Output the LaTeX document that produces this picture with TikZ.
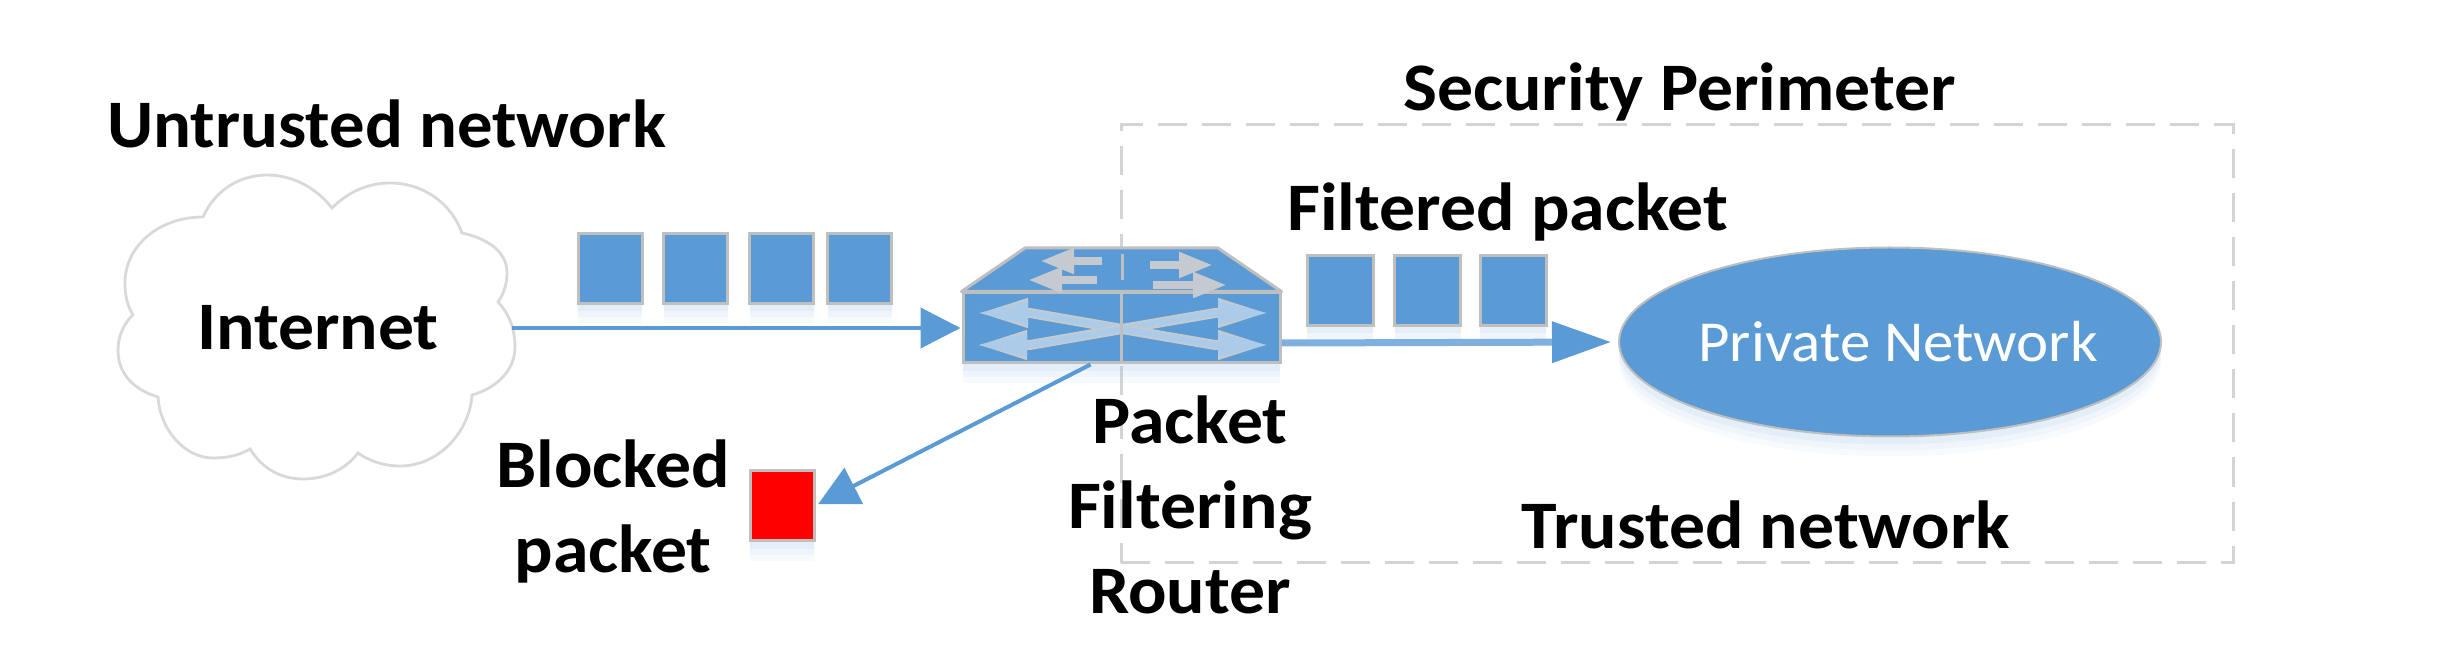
\documentclass[tikz,border=0pt]{standalone}
\usepackage{fontspec}
\newfontfamily\lblfont{Carlito}[FakeStretch=1.055]
\newfontfamily\narrowlbl{Carlito}[FakeStretch=1.04]
\newfontfamily\plainlbl{Carlito}[FakeStretch=1.05]
\usetikzlibrary{arrows.meta,shapes.geometric,shadows,calc}
\definecolor{pktblue}{HTML}{5B9BD5}
\definecolor{edgegrey}{HTML}{BFBFBF}
\definecolor{dashgrey}{HTML}{D4D4D4}
\definecolor{cloudgrey}{HTML}{D9D9D9}
\definecolor{glyphblue}{HTML}{ABCBE8}
\definecolor{glyphgrey}{HTML}{C4CAD0}
\definecolor{linkpale}{HTML}{7FB0E0}
\definecolor{softblue}{HTML}{9DC3E6}
\tikzset{
  softshadow/.style={
    drop shadow={shadow xshift=0pt,shadow yshift=-10pt,fill=softblue,opacity=.07},
    drop shadow={shadow xshift=0pt,shadow yshift=-7pt,fill=softblue,opacity=.10},
    drop shadow={shadow xshift=0pt,shadow yshift=-4pt,fill=softblue,opacity=.14}},
  packet/.style={draw=edgegrey,line width=1.5pt,fill=pktblue,inner sep=0pt,
    minimum width=32pt,minimum height=35pt,softshadow},
  blockedpkt/.style={packet,fill=red},
  filteredpkt/.style={packet,minimum width=33pt},
  lbl/.style={font=\lblfont\bfseries\fontsize{34}{42.5}\selectfont,text=black,inner sep=0pt,anchor=base west},
  link/.style={draw=pktblue,line width=2pt,-{Triangle[length=20pt,width=20pt,color=pktblue]}},
  glyph/.style={line width=3pt,draw=glyphblue,line join=round,-{Triangle[length=25pt,width=11pt,color=glyphblue]}},
  glyphback/.style={line width=5pt,draw=glyphgrey,line join=round,-{Triangle[length=25pt,width=13.5pt,color=glyphgrey]}},
  miniglyph/.style={line width=4pt,draw=glyphgrey,-{Triangle[length=17pt,width=12pt,color=glyphgrey]}},
}
\begin{document}
\begin{tikzpicture}[x=0.5pt,y=-0.5pt]
\useasboundingbox (0,0) rectangle (2452,662);
% perimeter
\node[draw=dashgrey,line width=1.5pt,dash pattern=on 14.5pt off 7.5pt,minimum width=556pt,minimum height=219pt,inner sep=0pt] (perimeter) at (1677,343.5) {};
% cloud
\draw[draw=cloudgrey,line width=1.4pt,fill=white]
 (203,217) .. controls (215,190) and (240,175) .. (267,175)
 .. controls (295,175) and (318,190) .. (332,208)
 .. controls (348,192) and (368,183) .. (390,183)
 .. controls (425,183) and (452,205) .. (462,233)
 .. controls (485,238) and (507,250) .. (507,273)
 .. controls (507,285) and (503,295) .. (498,302)
 .. controls (510,315) and (515,330) .. (515,347)
 .. controls (515,370) and (497,388) .. (472,395)
 .. controls (470,430) and (440,466) .. (400,466)
 .. controls (382,466) and (368,460) .. (358,453)
 .. controls (345,470) and (325,479) .. (303,479)
 .. controls (280,479) and (262,468) .. (250,449)
 .. controls (240,455) and (228,458) .. (213,458)
 .. controls (185,458) and (160,430) .. (158,397)
 .. controls (135,390) and (118,375) .. (118,350)
 .. controls (118,335) and (125,322) .. (133,315)
 .. controls (127,305) and (125,295) .. (125,283)
 .. controls (125,245) and (160,217) .. (203,217) -- cycle;
\node[lbl,anchor=center,minimum width=194pt,align=center] (internet) at (318,328) {Internet};
% packets
\node[packet] (p1) at (610,268.5) {};
\node[packet] (p2) at (695.5,268.5) {};
\node[packet] (p3) at (781.5,268.5) {};
\node[packet] (p4) at (859.5,268.5) {};
\node[filteredpkt] (f1) at (1340,290.5) {};
\node[filteredpkt] (f2) at (1427.5,290.5) {};
\node[filteredpkt] (f3) at (1513,290.5) {};
\node[blockedpkt] (blocked) at (782,505.5) {};
% private network
\node[ellipse,draw=edgegrey,line width=1pt,fill=pktblue,inner ysep=0pt,inner xsep=-9pt,minimum width=271pt,minimum height=94.5pt,softshadow,
  font=\plainlbl\fontsize{29}{34}\selectfont,text=white] (privnet) at (1890,342) {\hspace*{8pt}Private Network};
% router
\node[draw=edgegrey,line width=1.5pt,fill=pktblue,inner sep=0pt,minimum width=158.5pt,minimum height=35pt,softshadow] (router) at (1121.5,328) {};
\draw[draw=edgegrey,line width=1.5pt,fill=pktblue,line join=round] (router.north west) -- (1025,248) -- (1218,248) -- (router.north east) -- cycle;
\foreach \xb/\xa/\ya in {1030/978/313,1030/977/345,1215/1268/313,1215/1268/345}{
  \draw[glyphback] (1122,329) -- (\xb,\ya) -- (\xa,\ya);
  \draw[glyph] (1122,329) -- (\xb,\ya) -- (\xa,\ya);
}
\draw[miniglyph] (1102,261) -- (1040,261);
\draw[miniglyph] (1097,280) -- (1028,280);
\draw[miniglyph] (1150,265) -- (1213,265);
\draw[miniglyph] (1153,285) -- (1227,285);
\draw[edgegrey,line width=1.5pt] (1122,254) -- (1122,280);
\draw[edgegrey,line width=1.5pt] (router.north) -- (router.south);
% connectors
\draw[link,shorten >=0.5pt] (internet.east) -- (router.west);
\draw[draw=linkpale,line width=3.5pt,-{Triangle[length=29.5pt,width=20pt,color=pktblue]},shorten >=3.5pt] ([yshift=-7.5pt]router.east) -- (privnet.west);
\draw[link,shorten >=1.5pt] ([xshift=-15.5pt]router.south) -- (blocked.east);
% labels
\node[lbl,font=\narrowlbl\bfseries\fontsize{34}{42.5}\selectfont] (untrusted) at (107,148) {Untrusted network};
\node[lbl] (security) at (1403,111) {Security Perimeter};
\node[lbl] (filtered) at (1287,231) {Filtered packet};
\node[lbl] (trusted) at (1521,548) {Trusted network};
\node[lbl,anchor=base,align=center] (pfr) at (1190,613) {Packet\\Filtering\\Router};
\node[lbl,anchor=base,align=center] (bp) at (613,572) {Blocked\\packet};
\end{tikzpicture}
\end{document}
